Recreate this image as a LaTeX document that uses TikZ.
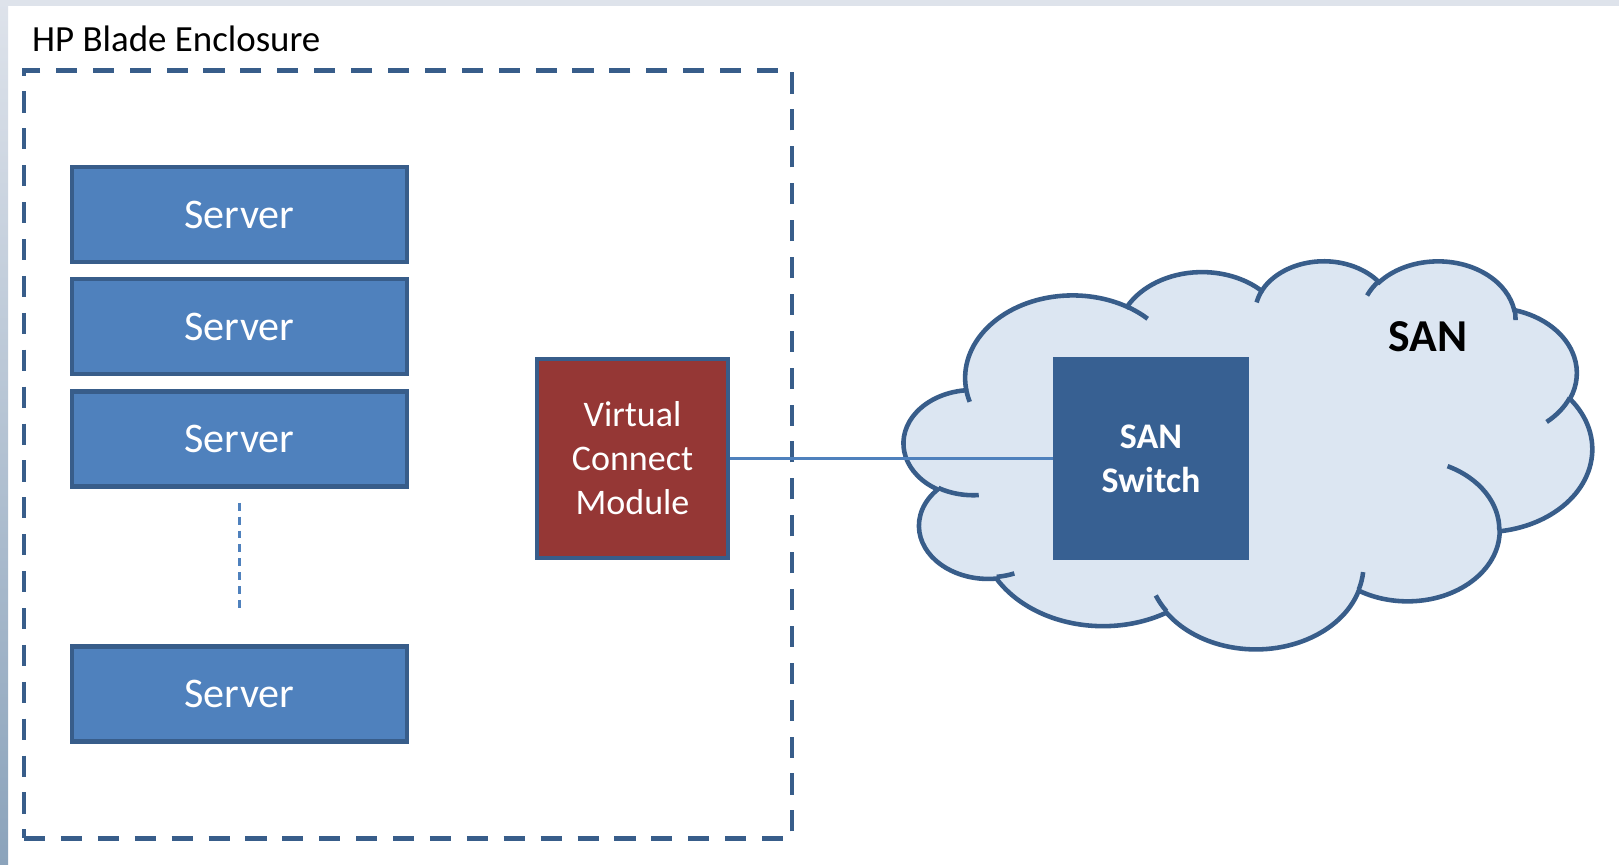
\documentclass[tikz,border=0pt]{standalone}
\usepackage{fontspec}
\setmainfont{Carlito}
\usepackage{tikz}

\definecolor{serverblue}{HTML}{4F81BD}
\definecolor{edgeblue}{HTML}{385D8A}
\definecolor{vcred}{HTML}{953735}
\definecolor{switchblue}{HTML}{376092}
\definecolor{cloudfill}{HTML}{DCE6F2}
\definecolor{stripgray}{HTML}{DEE3EB}
\definecolor{stripdark}{HTML}{8BA3BB}

\tikzset{
  lobe/.code n args={4}{%
    \pgfmathsetmacro\lobeS{atan2(#1*sin(-(#3)),#2*cos(-(#3)))}%
    \pgfmathsetmacro\lobeE{atan2(#1*sin(-(#3)-(#4)),#2*cos(-(#3)-(#4)))}%
    \pgfmathsetmacro\lobeD{\lobeE-\lobeS}%
    \pgfmathsetmacro\lobeD{\lobeD>0 ? \lobeD-360 : \lobeD}%
    \tikzset{x radius=#1,y radius=#2,start angle=\lobeS,delta angle=\lobeD}%
  }
}

\begin{document}
\begin{tikzpicture}[x=0.02cm,y=0.02cm,
    server/.style={draw=edgeblue,line width=2.6pt,fill=serverblue,text=white,
      minimum width=6.7cm,minimum height=1.9cm,font=\fontsize{24}{29}\selectfont},
    module/.style={draw=edgeblue,line width=2.6pt,fill=vcred,text=white,align=center,
      minimum width=3.82cm,minimum height=3.98cm,font=\fontsize{20.5}{25}\selectfont},
    switchbox/.style={fill=switchblue,text=white,align=center,
      minimum width=3.92cm,minimum height=4.08cm,font=\bfseries\fontsize{20.5}{25}\selectfont},
    enclosure/.style={draw=edgeblue,line width=2.5pt,dash pattern=on 12pt off 9pt,
      minimum width=15.36cm,minimum height=15.36cm},
    cloud/.style={draw=edgeblue,fill=cloudfill,line width=2.6pt},
    link/.style={draw=serverblue,line width=1.7pt},
    dotline/.style={draw=serverblue,line width=1.2pt,dash pattern=on 4.5pt off 3.4pt}]
  \useasboundingbox (0,0) rectangle (1619,865);
  \fill[white] (0,0) rectangle (1619,865);
  \shade[top color=stripgray,bottom color=stripdark] (0,0) rectangle (8,865);
  \fill[stripgray] (0,859) rectangle (1619,865);

  \node[enclosure] (encl) at (408,410.5) {};
  \node[anchor=base west,font=\fontsize{21}{25}\selectfont] (title) at (26,813) {HP Blade Enclosure};
  \node[server] (s1) at (239.5,650.5) {Server};
  \node[server] (s2) at (239.5,538.5) {Server};
  \node[server] (s3) at (239.5,426) {Server};
  \node[server] (s4) at (239.5,171) {Server};
  \draw[dotline,shorten <=0.28cm,shorten >=0.7cm] (s3.south) -- (s4.north);
  \node[module] (vcm) at (632.5,406.5) {Virtual\\Connect\\Module};

  \begin{scope}[shift={(904,217)},xscale=15.926,yscale=8.981]
    \filldraw[cloud] (3.9,28.83)
      arc[lobe={6.753}{9.190}{-190.487}{123.781}]
      arc[lobe={5.333}{7.267}{-144.102}{89.945}]
      arc[lobe={4.365}{5.945}{-145.808}{99.723}]
      arc[lobe={4.857}{6.595}{-130.986}{117.242}]
      arc[lobe={5.333}{7.273}{-78.709}{109.027}]
      arc[lobe={6.775}{9.220}{-46.267}{130.269}]
      arc[lobe={5.785}{7.867}{0.625}{114.033}]
      arc[lobe={6.752}{9.215}{22.452}{115.173}]
      arc[lobe={7.720}{10.543}{66.243}{75.711}]
      arc[lobe={4.360}{5.918}{-274.942}{146.736}]
      arc[lobe={4.345}{5.945}{-246.829}{152.519}]
      -- cycle;
    \draw[cloud,fill=none]
      (4.693,17.023) arc[lobe={4.345}{5.945}{86.742}{26.430}]
      (6.928,8.301) arc[lobe={4.360}{5.918}{73.610}{11.447}]
      (16.478,4.110) arc[lobe={6.752}{9.215}{137.624}{14.081}]
      (28.827,8.449) arc[lobe={6.752}{9.215}{6.453}{15.998}]
      (34.129,20.246) arc[lobe={5.785}{7.867}{-70.292}{70.917}]
      (41.798,27.846) arc[lobe={5.333}{7.273}{30.318}{27.752}]
      (38.324,37.774) arc[lobe={4.857}{6.595}{-13.744}{14.859}]
      (29.078,39.248) arc[lobe={4.857}{6.595}{-149.181}{18.195}]
      (22.141,38.480) arc[lobe={4.365}{5.945}{-163.494}{17.686}]
      (14.000,38.008) arc[lobe={6.753}{9.190}{-66.707}{12.319}]
      (4.127,27.411) arc[lobe={6.753}{9.190}{157.654}{11.858}];
  \end{scope}

  \node[switchbox] (switch) at (1151,406.5) {SAN\\Switch};
  \draw[link] (vcm.east) -- (switch.west);
  \node[font=\bfseries\fontsize{26}{31}\selectfont] (san) at (1428,528) {SAN};
\end{tikzpicture}
\end{document}
